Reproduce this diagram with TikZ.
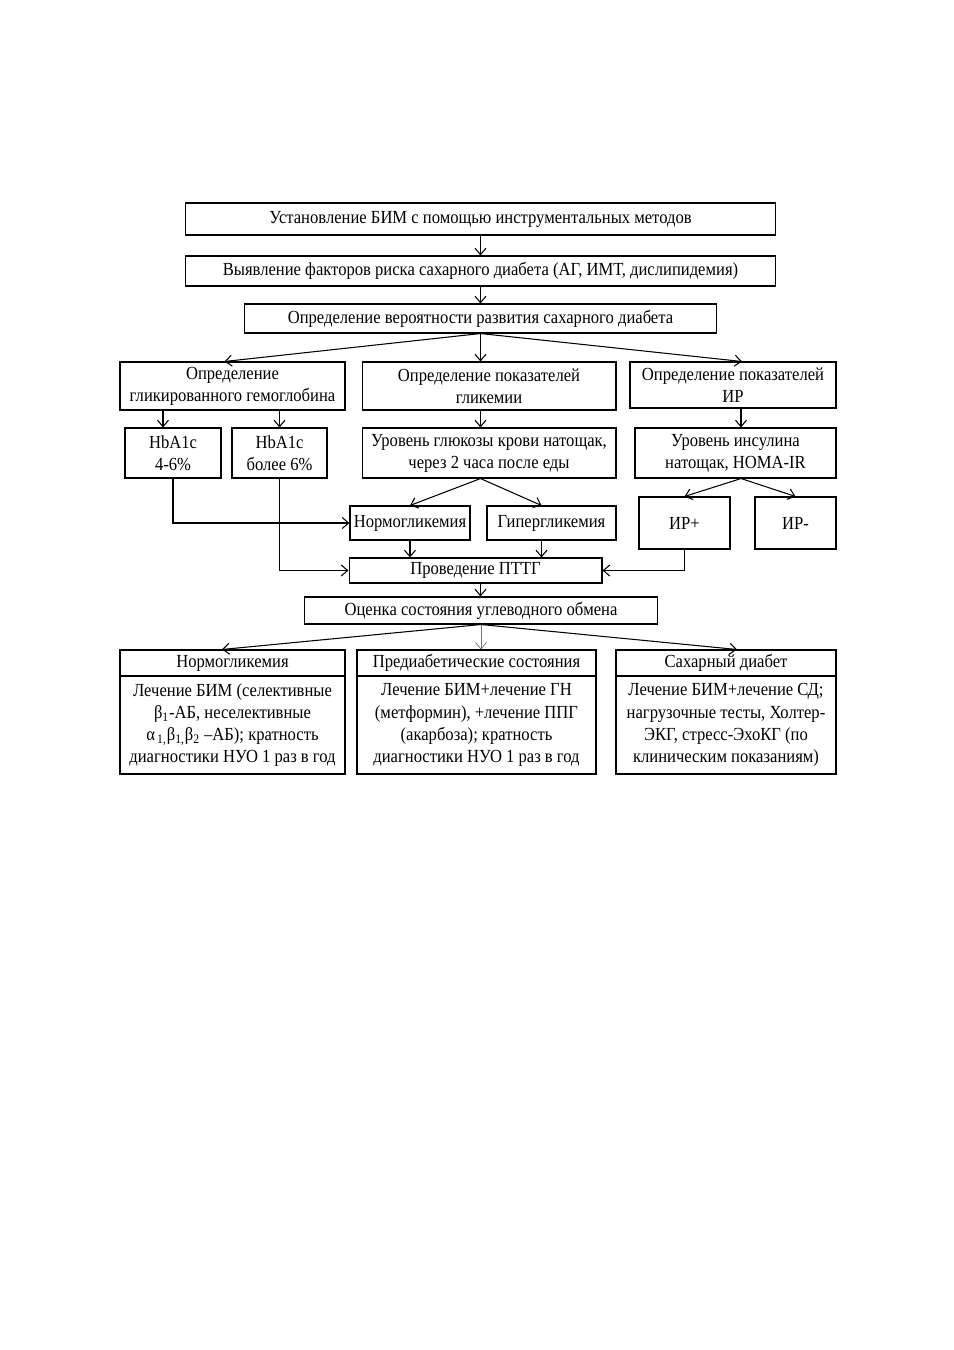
\documentclass[tikz,border=0pt]{standalone}
\usepackage{fontspec}
\setmainfont[FakeStretch=0.9]{Liberation Serif}
\usetikzlibrary{positioning,arrows.meta}

\begin{document}
\begin{tikzpicture}[
  x=0.02cm, y=-0.02cm,
  font=\fontsize{10.5}{12.6}\selectfont,
  box/.style={rectangle, draw=black, line width=0.6pt, inner sep=1pt, align=center},
  arr/.style={-{Straight Barb[length=1.3mm,width=2.2mm]}, line width=0.6pt}
]
\useasboundingbox[fill=white] (0,0) rectangle (954,1350);

% top chain
\node[box, minimum width=11.82cm, minimum height=0.64cm] (ust) at (480.5,219) {Установление БИМ с помощью инструментальных методов};
\node[box, minimum width=11.82cm, minimum height=0.6cm] (vyy) at (480.5,271) {Выявление факторов риска сахарного диабета (АГ, ИМТ, дислипидемия)};
\node[box, minimum width=9.46cm, minimum height=0.58cm] (opr) at (480.5,318.5) {Определение вероятности развития сахарного диабета};

% three branches
\node[box, minimum width=4.5cm, minimum height=0.96cm] (gem) at (232.5,386) {Определение\\гликированного гемоглобина};
\node[box, minimum width=5.08cm, minimum height=0.96cm] (gli) at (489,386) {Определение показателей\\гликемии};
\node[box, minimum width=4.12cm, minimum height=0.92cm] (ir) at (733,385) {Определение показателей\\ИР};

\node[box, minimum width=1.92cm, minimum height=1.0cm] (hb1) at (173,453) {HbA1c\\4-6\%};
\node[box, minimum width=1.9cm, minimum height=1.0cm] (hb2) at (279.5,453) {HbA1c\\более 6\%};
\node[box, minimum width=5.08cm, minimum height=1.0cm] (glu) at (489,453) {Уровень глюкозы крови натощак,\\через 2 часа после еды};
\node[box, minimum width=4.02cm, minimum height=1.0cm] (ins) at (735.5,453) {Уровень инсулина\\натощак, HOMA-IR};

\node[box, minimum width=2.4cm, minimum height=0.68cm] (nor) at (410,523) {Нормогликемия};
\node[box, minimum width=2.58cm, minimum height=0.68cm] (gip) at (551.5,523) {Гипергликемия};
\node[box, minimum width=1.82cm, minimum height=1.04cm] (irp) at (684.5,523) {ИР+};
\node[box, minimum width=1.62cm, minimum height=1.04cm] (irm) at (795.5,523) {ИР-};

\node[box, minimum width=5.06cm, minimum height=0.5cm] (ptt) at (475.5,570.5) {Проведение ПТТГ};
\node[box, minimum width=7.08cm, minimum height=0.54cm] (oce) at (481,610.5) {Оценка состояния углеводного обмена};

% outcomes
\node[box, minimum width=4.5cm, minimum height=0.52cm] (t1) at (232.5,663) {Нормогликемия};
\node[box, minimum width=4.5cm, minimum height=1.96cm] (b1) at (232.5,725) {Лечение БИМ (селективные\\
  β\textsubscript{1}-АБ, неселективные\\
  α\textsubscript{\,1,}β\textsubscript{1,}β\textsubscript{2} –АБ); кратность\\
  диагностики НУО 1 раз в год};
\node[box, minimum width=4.78cm, minimum height=0.52cm] (t2) at (476.5,663) {Предиабетические состояния};
\node[box, minimum width=4.78cm, minimum height=1.96cm] (b2) at (476.5,725) {Лечение БИМ+лечение ГН\\
  (метформин), +лечение ППГ\\
  (акарбоза); кратность\\
  диагностики НУО 1 раз в год};
\node[box, minimum width=4.4cm, minimum height=0.52cm] (t3) at (726,663) {Сахарный диабет};
\node[box, minimum width=4.4cm, minimum height=1.96cm] (b3) at (726,725) {Лечение БИМ+лечение СД;\\
  нагрузочные тесты, Холтер-\\
  ЭКГ, стресс-ЭхоКГ (по\\
  клиническим показаниям)};

% connectors
\draw[arr] (ust) -- (vyy);
\draw[arr] (vyy) -- (opr);
\draw[arr] (opr.south) -- ([xshift=-0.16cm]gem.north);
\draw[arr] (opr.south) -- (opr.south |- gli.north);
\draw[arr] (opr.south) -- ([xshift=0.18cm]ir.north);
\draw[arr] ([xshift=-0.2cm]hb1.north |- gem.south) -- ([xshift=-0.2cm]hb1.north);
\draw[arr] (hb2.north |- gem.south) -- (hb2.north);
\draw[arr] (opr.south |- gli.south) -- (opr.south |- glu.north);
\draw[arr] ([xshift=0.16cm]ir.south) -- ([xshift=0.16cm]ir.south |- ins.north);
\draw[arr] (opr.south |- glu.south) -- (nor.north);
\draw[arr] (opr.south |- glu.south) -- ([xshift=-0.2cm]gip.north);
\draw[arr] ([xshift=0.16cm]ir.south |- ins.south) -- (irp.north);
\draw[arr] ([xshift=0.16cm]ir.south |- ins.south) -- (irm.north);
\draw[arr] (hb1.south) |- (nor.west);
\draw[arr] (hb2.south) |- (ptt.west);
\draw[arr] (nor.south) -- (nor.south |- ptt.north);
\draw[arr] ([xshift=-0.2cm]gip.south) -- ([xshift=-0.2cm]gip.south |- ptt.north);
\draw[arr] (irp.south) |- (ptt.east);
\draw[arr] (opr.south |- ptt.south) -- (opr.south |- oce.north);
\draw[arr] (oce.south) -- ([xshift=-0.21cm]t1.north);
\draw[arr, draw=black!55, line width=0.4pt] (oce.south) -- (oce.south |- t2.north);
\draw[arr] (oce.south) -- ([xshift=0.22cm]t3.north);
\end{tikzpicture}
\end{document}
